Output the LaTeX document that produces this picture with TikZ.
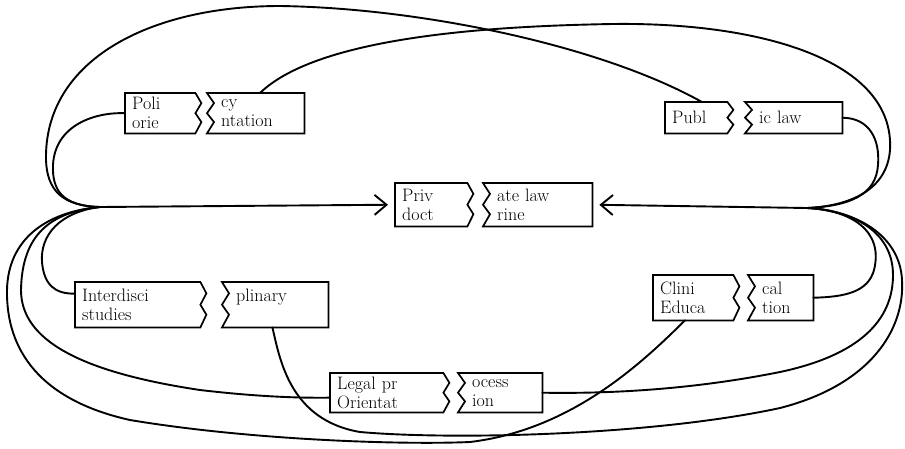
\documentclass[tikz,border=0pt]{standalone}
\usetikzlibrary{arrows.meta,calc}
\begin{document}
\begin{tikzpicture}[x=1pt,y=-1pt,
    link/.style={line width=1.9pt,line cap=round,line join=round},
    arr/.style={link,-{Straight Barb[length=12pt,width=20pt]},shorten >=7pt},
    outline/.style={line width=1.7pt,line join=miter},
    lpiece/.style 2 args={anchor=north west,inner sep=0pt,minimum width=#1,minimum height=#2,
        text width=#1-14pt,align=left,font=\fontsize{18}{19}\selectfont},
    rpiece/.style 2 args={anchor=north west,inner sep=0pt,minimum width=#1,minimum height=#2,
        text width=#1-28pt,align=left,font=\fontsize{18}{19}\selectfont}]
    \useasboundingbox (0,0) rectangle (905,448);

    % split boxes
    \node[lpiece={70}{40}]  (polL)  at (125,93)  {Poli\\orie};
    \node[rpiece={97}{40}]  (polR)  at (207,93)  {cy\\ntation};
    \node[lpiece={62}{31}]  (pubL)  at (665,102) {Publ};
    \node[rpiece={97}{31}]  (pubR)  at (745,102) {ic law};
    \node[lpiece={72}{43}]  (privL) at (395,183) {Priv\\doct};
    \node[rpiece={109}{43}] (privR) at (483,183) {ate law\\rine};
    \node[lpiece={125}{45}] (intL)  at (75,282)  {Interdisci\\studies};
    \node[rpiece={106}{45}] (intR)  at (222,282) {plinary\\~};
    \node[lpiece={80}{45}]  (cliL)  at (653,275) {Clini\\Educa};
    \node[rpiece={65}{45}]  (cliR)  at (748,275) {cal\\tion};
    \node[lpiece={113}{39}] (legL)  at (330,373) {Legal pr\\Orientat};
    \node[rpiece={84}{39}]  (legR)  at (458,373) {ocess\\ion};

    \foreach \n in {polL,pubL,privL,intL,cliL,legL}
        \draw[outline] (\n.north west) -- (\n.north east)
            -- ($(\n.north east)!.25!(\n.south east)+(6,0)$) -- ($(\n.north east)!.5!(\n.south east)$)
            -- ($(\n.north east)!.72!(\n.south east)+(6,0)$) -- (\n.south east) -- (\n.south west) -- cycle;
    \foreach \n in {polR,pubR,privR,intR,cliR,legR}
        \draw[outline] (\n.north east) -- (\n.north west)
            -- ($(\n.north west)!.25!(\n.south west)+(7,0)$) -- ($(\n.north west)!.5!(\n.south west)$)
            -- ($(\n.north west)!.72!(\n.south west)+(7,0)$) -- (\n.south west) -- (\n.south east) -- cycle;

    % meeting points
    \coordinate (lm) at (100,207);
    \coordinate (rm) at (807,208);

    \draw[arr] (lm) -- (privL.west);
    \draw[arr] (rm) -- (privR.east);

    % left bundle
    \draw[link] (lm) .. controls (62,206) and (47,190) .. (46,160) .. controls (44,60) and (150,6) .. (280,6)
        .. controls (420,8) and (600,45) .. (pubL.70);
    \draw[link] (lm) .. controls (62,206) and (52,190) .. (53,165) .. controls (55,125) and (95,112) .. (polL.west);
    \draw[link] (lm) .. controls (60,212) and (40,235) .. (42,262) .. controls (44,285) and (55,294) .. (intL.170);
    \draw[link] (lm) .. controls (50,212) and (22,235) .. (21,290) .. controls (21,340) and (80,372) .. (200,390)
        .. controls (260,397) and (300,398) .. (legL.185);
    \draw[link] (lm) .. controls (45,212) and (8,240) .. (7,290) .. controls (6,350) and (40,400) .. (130,420)
        .. controls (250,440) and (400,445) .. (470,442) .. controls (570,430) and (640,365) .. (cliL.-110);

    % right bundle
    \draw[link] (rm) .. controls (850,206) and (887,190) .. (890,150) .. controls (895,60) and (760,22) .. (612,24)
        .. controls (500,26) and (320,35) .. (polR.78);
    \draw[link] (pubR.east) .. controls (870,118) and (880,140) .. (878,165) .. controls (876,195) and (850,206) .. (rm);
    \draw[link] (cliR.east) .. controls (845,297) and (868,292) .. (874,270) .. controls (884,230) and (850,210) .. (rm);
    \draw[link] (legR.east) .. controls (620,394) and (700,388) .. (780,372) .. controls (860,355) and (893,320) .. (893,275)
        .. controls (893,230) and (850,210) .. (rm);
    \draw[link] (intR.-97) .. controls (280,360) and (290,420) .. (360,432) .. controls (450,440) and (650,436) .. (780,408)
        .. controls (870,385) and (905,330) .. (902,280) .. controls (900,235) and (855,210) .. (rm);
\end{tikzpicture}
\end{document}
